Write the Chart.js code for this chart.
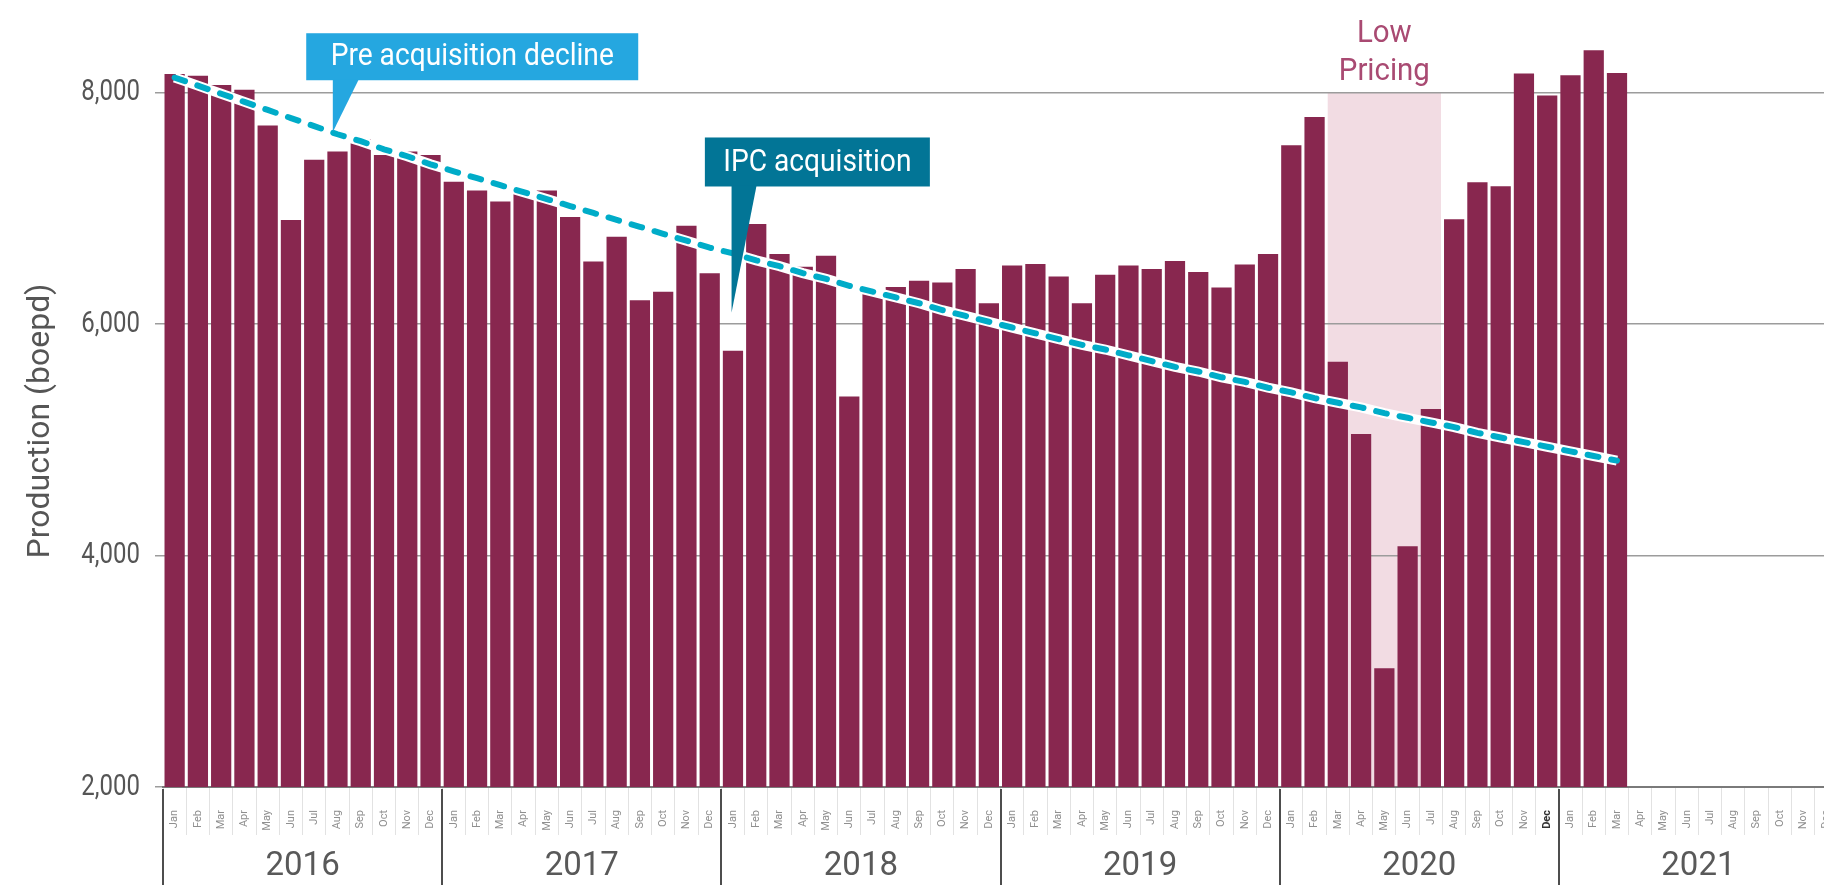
<!DOCTYPE html>
<html>
<head>
<meta charset="utf-8">
<script src="https://cdn.jsdelivr.net/npm/chart.js@4.4.0/dist/chart.umd.min.js"></script>
<style>
  html, body { margin: 0; padding: 0; background: #fff; overflow: hidden; }
  canvas { display: block; }
</style>
</head>
<body>
<canvas id="chart" width="1838" height="885"></canvas>
<script>
// data

const years = ["2016", "2017", "2018", "2019", "2020", "2021"];
const months = ["Jan", "Feb", "Mar", "Apr", "May", "Jun", "Jul", "Aug", "Sep", "Oct", "Nov", "Dec"];

// monthly production, boepd (Jan 2016 - Mar 2021)
const production = [
  8160, 8145, 8065, 8025, 7715, 6900, 7420, 7490, 7600, 7460, 7490, 7460,
  7230, 7155, 7060, 7145, 7155, 6925, 6540, 6755, 6205, 6280, 6850, 6440,
  5770, 6865, 6605, 6495, 6590, 5375, 6280, 6320, 6375, 6360, 6475, 6180,
  6505, 6520, 6410, 6180, 6425, 6505, 6475, 6545, 6450, 6315, 6515, 6605,
  7545, 7790, 5675, 5050, 3025, 4080, 5265, 6905, 7225, 7190, 8165, 7975,
  8150, 8365, 8170,
];

// pre acquisition decline line, read month by month
const trend = [
  8130, 8060, 7990, 7920, 7850, 7780, 7710, 7640, 7580, 7510, 7450, 7380,
  7320, 7260, 7200, 7140, 7080, 7020, 6960, 6900, 6840, 6780, 6720, 6660,
  6610, 6550, 6500, 6440, 6390, 6330, 6280, 6230, 6180, 6120, 6070, 6020,
  5970, 5920, 5870, 5820, 5780, 5730, 5680, 5630, 5590, 5540, 5500, 5450,
  5410, 5360, 5320, 5280, 5230, 5190, 5150, 5110, 5060, 5020, 4980, 4940,
  4900, 4860, 4820,
];

const yTicks = [2000, 4000, 6000, 8000];
const lowPricing = ["2020-03", "2020-07"];

const labels = years.flatMap(() => months);
const monthIndex = (s) => {
  const [yy, mm] = s.split("-").map(Number);
  return (yy - Number(years[0])) * 12 + mm - 1;
};

// text in a narrow face: squeeze horizontally
function narrowText(ctx, text, x, y, font, sx) {
  ctx.save();
  ctx.font = font;
  ctx.translate(x, y);
  ctx.scale(sx, 1);
  ctx.fillText(text, 0, 0);
  ctx.restore();
}

function callout(chart, c) {
  const { ctx, scales: { x, y } } = chart;
  const tx = x.getPixelForValue(c.tip[0]);
  const ty = y.getPixelForValue(c.tip[1]);
  const left = tx + c.box[0], right = tx + c.box[1];
  const top = ty + c.box[2], bottom = ty + c.box[3];
  ctx.save();
  ctx.fillStyle = c.color;
  ctx.fillRect(left, top, right - left, bottom - top);
  ctx.beginPath();
  ctx.moveTo(tx, bottom - 1);
  ctx.lineTo(tx + c.base, bottom - 1);
  ctx.lineTo(tx, ty);
  ctx.closePath();
  ctx.fill();
  ctx.fillStyle = "#ffffff";
  ctx.textAlign = "center";
  ctx.textBaseline = "alphabetic";
  narrowText(ctx, c.text, (left + right) / 2, ty + c.textY, "32px Roboto", 0.88);
  ctx.restore();
}

const overlay = {
  id: "overlay",
  beforeDraw(chart) {
    const { ctx, chartArea, scales: { y } } = chart;
    const bars = chart.getDatasetMeta(0).data;
    const a = bars[monthIndex(lowPricing[0])];
    const b = bars[monthIndex(lowPricing[1])];
    const x0 = a.x - a.width / 2, x1 = b.x + b.width / 2;
    const top = y.getPixelForValue(8000);
    ctx.save();
    ctx.fillStyle = "#f2dce3";
    ctx.fillRect(x0, top, x1 - x0, chartArea.bottom - top);
    ctx.fillStyle = "#a94a72";
    ctx.textAlign = "center";
    narrowText(ctx, "Low", (x0 + x1) / 2, top - 51, "32px Roboto", 0.92);
    narrowText(ctx, "Pricing", (x0 + x1) / 2, top - 13, "32px Roboto", 0.92);
    ctx.restore();
  },
  afterDraw(chart) {
    const { ctx, chartArea, scales: { x, y } } = chart;
    ctx.save();

    // year separators and year labels
    ctx.strokeStyle = "#4d4d4d";
    ctx.lineWidth = 2;
    ctx.fillStyle = "#595959";
    ctx.font = "33px Roboto";
    ctx.textAlign = "center";
    ctx.textBaseline = "alphabetic";
    years.forEach((yr, i) => {
      const xb = Math.round(x.getPixelForValue(i * 12 - 0.5));
      ctx.beginPath();
      ctx.moveTo(xb, chartArea.bottom + 2);
      ctx.lineTo(xb, chart.height);
      ctx.stroke();
      ctx.fillText(yr, x.getPixelForValue(i * 12 + 5.5), chartArea.bottom + 88);
    });

    // y tick labels
    ctx.fillStyle = "#555555";
    ctx.textAlign = "right";
    ctx.textBaseline = "middle";
    yTicks.forEach((v) => {
      narrowText(ctx, v.toLocaleString("en-US"), chartArea.left - 23, y.getPixelForValue(v), "30px Roboto", 0.8);
    });

    // y axis title
    ctx.translate(41, 421);
    ctx.rotate(-Math.PI / 2);
    ctx.textAlign = "center";
    ctx.font = "32px Roboto";
    ctx.fillText("Production (boepd)", 0, 0);
    ctx.restore();

    callout(chart, {
      text: "Pre acquisition decline", tip: [6.8, 7660], color: "#25a7e0",
      box: [-26.6, 305.4, -98.7, -51.7], base: 26, textY: -66.7,
    });
    callout(chart, {
      text: "IPC acquisition", tip: [23.94, 6100], color: "#027596",
      box: [-26.7, 198.3, -175, -126], base: 25, textY: -141,
    });
  },
};

new Chart(document.getElementById("chart"), {
  type: "bar",
  data: {
    labels: labels,
    datasets: [
      {
        label: "Production",
        data: production,
        backgroundColor: "#88274f",
        barPercentage: 0.87,
        categoryPercentage: 1.0,
        order: 3,
      },
      {
        type: "line",
        label: "halo",
        data: trend,
        borderColor: "#ffffff",
        borderWidth: 10,
        pointRadius: 0,
        order: 2,
      },
      {
        type: "line",
        label: "Pre acquisition decline",
        data: trend,
        borderColor: "#00acc8",
        borderWidth: 6,
        borderDash: [11, 13],
        borderCapStyle: "round",
        pointRadius: 0,
        order: 1,
      },
    ],
  },
  options: {
    responsive: false,
    animation: false,
    events: [],
    layout: { padding: 0 },
    plugins: {
      legend: { display: false },
      tooltip: { enabled: false },
    },
    scales: {
      x: {
        offset: true,
        grid: {
          offset: true,
          drawOnChartArea: false,
          drawTicks: true,
          tickLength: 48,
          color: "#e2e2e2",
          lineWidth: 1,
        },
        border: { color: "#7a7a7a", width: 2 },
        ticks: {
          autoSkip: false,
          minRotation: 90,
          maxRotation: 90,
          padding: -25,
          color: (c) => (c.index === 59 ? "#333333" : "#8f8f8f"),
          font: (c) => ({ family: "Roboto", size: 11, weight: c.index === 59 ? "bold" : "normal" }),
        },
        afterFit: (s) => { s.height = 98; },
      },
      y: {
        min: 2000,
        max: 8800,
        ticks: { display: false },
        afterBuildTicks: (s) => { s.ticks = yTicks.map((v) => ({ value: v })); },
        grid: { color: "#9c9c9c", lineWidth: 1.5, tickLength: 8 },
        border: { display: false },
        afterFit: (s) => { s.width = 163; },
      },
    },
  },
  plugins: [overlay],
});
</script>
</body>
</html>
